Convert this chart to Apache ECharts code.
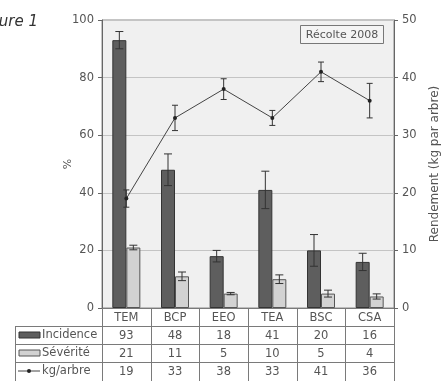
<!DOCTYPE html>
<html>
<head>
<meta charset="utf-8">
<script src="https://cdn.jsdelivr.net/npm/echarts@6/dist/echarts.min.js"></script>
<style>
  html, body { margin: 0; padding: 0; background: #ffffff; }
  #chart { width: 444px; height: 381px; }
</style>
</head>
<body>
<div id="chart"></div>
<script>
// Sites sampled in the 2008 harvest
const categories = ['TEM', 'BCP', 'EEO', 'TEA', 'BSC', 'CSA'];
// Disease incidence (%) and its error
const incidence = [93, 48, 18, 41, 20, 16];
const incidenceErr = [3, 5.5, 2, 6.5, 5.5, 3];
// Disease severity (%) and its error
const severite = [21, 11, 5, 10, 5, 4];
const severiteErr = [0.8, 1.5, 0.4, 1.5, 1.2, 0.9];
// Yield (kg per tree) and its error
const rendement = [19, 33, 38, 33, 41, 36];
const rendementErr = [1.5, 2.2, 1.8, 1.3, 1.7, 3];
// Axis ticks
const pctTicks = [0, 20, 40, 60, 80, 100];
const kgTicks = [0, 10, 20, 30, 40, 50];
// Row labels of the data table
const rowLabels = ['Incidence', 'Sévérité', 'kg/arbre'];

const FONT = 'DejaVu Sans';
const TXT = '#555555';
const LINE = '#7a7a7a';
const BAR_W = 14;

const chart = echarts.init(document.getElementById('chart'), null, { renderer: 'canvas' });

function errorBars(values, errs, offset, capHalf, axisIdx) {
  return {
    type: 'custom',
    yAxisIndex: axisIdx,
    silent: true,
    z: 5,
    data: values.map((v, i) => [i, v, errs[i]]),
    encode: { x: 0, y: 1 },
    renderItem: function (params, api) {
      const i = api.value(0), v = api.value(1), e = api.value(2);
      const top = api.coord([i, v + e]);
      const bot = api.coord([i, v - e]);
      const x = top[0] + offset;
      const style = { stroke: '#333333', lineWidth: 1 };
      return {
        type: 'group',
        children: [
          { type: 'line', shape: { x1: x, y1: top[1], x2: x, y2: bot[1] }, style },
          { type: 'line', shape: { x1: x - capHalf, y1: top[1], x2: x + capHalf, y2: top[1] }, style },
          { type: 'line', shape: { x1: x - capHalf, y1: bot[1], x2: x + capHalf, y2: bot[1] }, style }
        ]
      };
    }
  };
}

const option = {
  animation: false,
  backgroundColor: '#ffffff',
  grid: {
    left: 102, right: 50, top: 20, bottom: 73,
    containLabel: false, outerBoundsMode: 'none',
    show: true, backgroundColor: '#f0f0f0', borderColor: '#8a8a8a', borderWidth: 1
  },
  xAxis: {
    type: 'category',
    data: categories,
    axisLine: { lineStyle: { color: LINE } },
    axisTick: { show: false },
    axisLabel: {
      margin: 1,
      fontFamily: FONT, fontSize: 11.5, color: TXT, lineHeight: 18,
      formatter: function (val, idx) {
        return [val, incidence[idx], severite[idx], rendement[idx]].join('\n');
      }
    }
  },
  yAxis: [
    {
      type: 'value', min: pctTicks[0], max: pctTicks[pctTicks.length - 1], interval: 20,
      axisLine: { show: true, lineStyle: { color: '#666' } },
      axisTick: { show: true, length: 4, lineStyle: { color: '#666' } },
      axisLabel: { fontFamily: FONT, fontSize: 11.5, color: TXT, margin: 8 },
      splitLine: { show: true, lineStyle: { color: '#c4c4c4' } }
    },
    {
      type: 'value', min: kgTicks[0], max: kgTicks[kgTicks.length - 1], interval: 10,
      axisLine: { show: true, lineStyle: { color: '#666' } },
      axisTick: { show: true, length: 4, lineStyle: { color: '#666' } },
      axisLabel: { fontFamily: FONT, fontSize: 11.5, color: TXT, margin: 8 },
      splitLine: { show: false }
    }
  ],
  series: [
    {
      name: 'Incidence', type: 'bar', data: incidence, barWidth: BAR_W, barGap: '0%',
      itemStyle: { color: '#5e5e5e', borderColor: '#333333', borderWidth: 1 }
    },
    {
      name: 'Sévérité', type: 'bar', data: severite, barWidth: BAR_W, barGap: '0%',
      itemStyle: { color: '#d2d2d2', borderColor: '#555555', borderWidth: 1 }
    },
    {
      name: 'kg/arbre', type: 'line', yAxisIndex: 1, data: rendement,
      symbol: 'circle', symbolSize: 4, z: 6,
      lineStyle: { color: '#444444', width: 1 },
      itemStyle: { color: '#222222' }
    },
    errorBars(incidence, incidenceErr, -BAR_W / 2, 4, 0),
    errorBars(severite, severiteErr, BAR_W / 2, 4, 0),
    errorBars(rendement, rendementErr, 0, 3, 1)
  ]
};

chart.setOption(option);

// Data table under the plot: grid lines and row legend
function drawTable() {
  const c0 = chart.convertToPixel({ xAxisIndex: 0 }, 0);
  const c1 = chart.convertToPixel({ xAxisIndex: 0 }, 1);
  const band = c1 - c0;
  const yTop = chart.convertToPixel({ yAxisIndex: 0 }, 0);
  const yMid = chart.convertToPixel({ yAxisIndex: 0 }, 50);
  const rowH = 18;
  const plotLeft = c0 - band / 2;
  const plotRight = plotLeft + band * categories.length;
  const tableLeft = 15;
  const bottom = 381 + 2;
  const els = [];
  const ls = { stroke: LINE, lineWidth: 1 };

  // vertical lines
  for (let i = 0; i <= categories.length; i++) {
    const x = Math.round(plotLeft + band * i) + 0.5;
    els.push({ type: 'line', shape: { x1: x, y1: yTop, x2: x, y2: bottom }, style: ls });
  }
  els.push({ type: 'line', shape: { x1: tableLeft + 0.5, y1: yTop + rowH, x2: tableLeft + 0.5, y2: bottom }, style: ls });
  // horizontal lines
  for (let r = 1; r <= 3; r++) {
    const y = Math.round(yTop + rowH * r) + 0.5;
    els.push({ type: 'line', shape: { x1: tableLeft, y1: y, x2: plotRight, y2: y }, style: ls });
  }

  // row legend
  rowLabels.forEach((lab, r) => {
    const cy = yTop + rowH * (r + 1) + rowH / 2;
    if (r === 0) {
      els.push({ type: 'rect', shape: { x: 19, y: cy - 3, width: 21, height: 6 },
        style: { fill: '#5e5e5e', stroke: '#333', lineWidth: 1 } });
    } else if (r === 1) {
      els.push({ type: 'rect', shape: { x: 19, y: cy - 3, width: 21, height: 6 },
        style: { fill: '#d2d2d2', stroke: '#555', lineWidth: 1 } });
    } else {
      els.push({ type: 'line', shape: { x1: 18, y1: cy, x2: 40, y2: cy }, style: { stroke: '#444', lineWidth: 1 } });
      els.push({ type: 'circle', shape: { cx: 29, cy: cy, r: 2 }, style: { fill: '#222' } });
    }
    els.push({ type: 'text', x: 42, y: cy,
      style: { text: lab, font: '11.5px ' + FONT, fill: TXT, textVerticalAlign: 'middle', verticalAlign: 'middle' } });
  });

  // axis titles
  els.push({ type: 'text', x: 68, y: yMid, rotation: Math.PI / 2,
    style: { text: '%', font: '11px ' + FONT, fill: TXT, align: 'center', verticalAlign: 'middle', textAlign: 'center', textVerticalAlign: 'middle' } });
  els.push({ type: 'text', x: 435, y: yMid, rotation: Math.PI / 2,
    style: { text: 'Rendement (kg par arbre)', font: '12px ' + FONT, fill: TXT, align: 'center', verticalAlign: 'middle', textAlign: 'center', textVerticalAlign: 'middle' } });

  // harvest label box
  els.push({ type: 'rect', shape: { x: 300.5, y: 25.5, width: 83, height: 18 },
    style: { fill: '#f4f4f4', stroke: '#777', lineWidth: 1 }, z: 10 });
  els.push({ type: 'text', x: 342, y: 35, z: 11,
    style: { text: 'Récolte 2008', font: '11px ' + FONT, fill: TXT, align: 'center', verticalAlign: 'middle', textAlign: 'center', textVerticalAlign: 'middle' } });

  // figure caption
  els.push({ type: 'text', x: 38, y: 22,
    style: { text: 'Figure 1', font: 'italic 15px ' + FONT, fill: '#333', align: 'right', verticalAlign: 'middle', textAlign: 'right', textVerticalAlign: 'middle' } });

  chart.setOption({ graphic: { elements: els } });
}
drawTable();
</script>
</body>
</html>
